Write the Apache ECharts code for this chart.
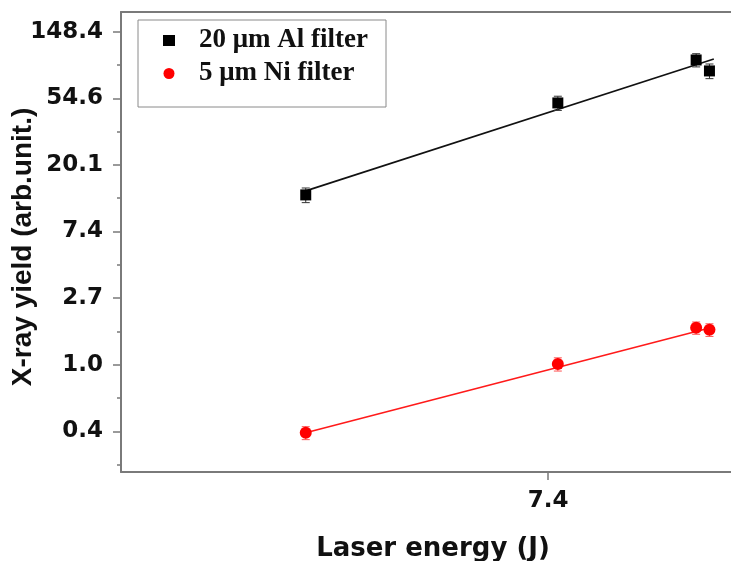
<!DOCTYPE html>
<html>
<head>
<meta charset="utf-8">
<title>X-ray yield vs laser energy</title>
<script src="https://cdn.jsdelivr.net/npm/echarts@6/dist/echarts.min.js"></script>
<style>
  html, body { margin: 0; padding: 0; background: #ffffff; }
  #chart { width: 731px; height: 561px; }
</style>
</head>
<body>
<div id="chart"></div>
<script>
// Laser energy (J) of each shot group
const energy = [4.95, 7.51, 9.44, 9.65];

// 20 um Al filter: yield and error
const alYield = [12.8, 50.9, 97.0, 82.3];
const alErr = [1.4, 5.4, 9.6, 9.0];

// 5 um Ni filter: yield and error
const niYield = [0.36, 1.01, 1.74, 1.69];
const niErr = [0.035, 0.10, 0.16, 0.16];

// Power-law fit lines (end points)
const alFitEnergy = [4.95, 9.72];
const alFitYield = [13.6, 98.5];
const niFitEnergy = [4.95, 9.59];
const niFitYield = [0.36, 1.71];

// Natural-log axes: tick exponents and their labels
const yTickExps = [-1, 0, 1, 2, 3, 4, 5];
const yTickLabels = ['0.4', '1.0', '2.7', '7.4', '20.1', '54.6', '148.4'];
const yMinorExps = [-1.5, -0.5, 0.5, 1.5, 2.5, 3.5, 4.5];
const xTickExps = [2];
const xTickLabels = ['7.4'];
const xRange = [3.647, 10.0];
const yRange = [0.2, 199.3];

const ln = Math.log;
const seriesNames = ['20 \u03bcm Al filter', '5 \u03bcm Ni filter'];
const axisColor = '#7a7a7a';
const textColor = '#111111';

function pts(xs, ys) { return xs.map((x, i) => [ln(x), ln(ys[i])]); }
function errPts(xs, ys, es) {
  return xs.map((x, i) => [ln(x), ln(ys[i] - es[i]), ln(ys[i] + es[i])]);
}
function errorBars(color) {
  return function (params, api) {
    const x = api.value(0);
    const lo = api.coord([x, api.value(1)]);
    const hi = api.coord([x, api.value(2)]);
    const w = 4;
    const st = { stroke: color, lineWidth: 1 };
    return {
      type: 'group',
      children: [
        { type: 'line', shape: { x1: lo[0], y1: lo[1], x2: hi[0], y2: hi[1] }, style: st },
        { type: 'line', shape: { x1: lo[0] - w, y1: lo[1], x2: lo[0] + w, y2: lo[1] }, style: st },
        { type: 'line', shape: { x1: hi[0] - w, y1: hi[1], x2: hi[0] + w, y2: hi[1] }, style: st }
      ]
    };
  };
}

const labelMap = {};
yTickExps.forEach((k, i) => { labelMap['y' + k] = yTickLabels[i]; });
xTickExps.forEach((k, i) => { labelMap['x' + k] = xTickLabels[i]; });

const chart = echarts.init(document.getElementById('chart'), null, { renderer: 'canvas' });

chart.setOption({
  animation: false,
  backgroundColor: '#ffffff',
  grid: { left: 121, right: 0, top: 12, bottom: 89, containLabel: false, outerBoundsMode: 'none' },
  legend: {
    orient: 'vertical',
    left: 138,
    top: 20,
    padding: [7, 18, 20, 25],
    itemGap: 6,
    itemWidth: 12,
    itemHeight: 11,
    borderColor: '#8a8a8a',
    borderWidth: 1,
    data: seriesNames,
    textStyle: {
      fontFamily: 'Liberation Serif',
      fontWeight: 'bold',
      fontSize: 27,
      color: textColor,
      padding: [0, 0, 0, 19]
    }
  },
  xAxis: [
    {
      type: 'value',
      min: ln(xRange[0]),
      max: ln(xRange[1]),
      name: 'Laser energy (J)',
      nameLocation: 'middle',
      nameGap: 64,
      nameMoveOverlap: false,
      nameTextStyle: {
        fontFamily: 'DejaVu Sans',
        fontWeight: 'bold',
        fontSize: 26,
        color: textColor,
        padding: [0, 0, 0, 14]
      },
      splitLine: { show: false },
      axisLine: { show: true, onZero: false, lineStyle: { color: axisColor, width: 2 } },
      axisTick: { show: true, length: 8, customValues: xTickExps, lineStyle: { color: axisColor, width: 1.5 } },
      axisLabel: {
        customValues: xTickExps,
        margin: 18,
        fontFamily: 'DejaVu Sans',
        fontWeight: 'bold',
        fontSize: 23,
        color: textColor,
        formatter: v => labelMap['x' + Math.round(v)]
      }
    },
    {
      type: 'value',
      position: 'top',
      min: ln(xRange[0]),
      max: ln(xRange[1]),
      splitLine: { show: false },
      axisLine: { show: true, onZero: false, lineStyle: { color: axisColor, width: 2 } },
      axisTick: { show: false },
      axisLabel: { show: false }
    }
  ],
  yAxis: [
    {
      type: 'value',
      min: ln(yRange[0]),
      max: ln(yRange[1]),
      name: 'X-ray yield (arb.unit.)',
      nameLocation: 'middle',
      nameGap: 84,
      nameMoveOverlap: false,
      nameTextStyle: {
        fontFamily: 'Liberation Sans',
        fontWeight: 'bold',
        fontSize: 28,
        color: textColor,
        padding: [0, 10, 0, 0]
      },
      splitLine: { show: false },
      axisLine: { show: true, onZero: false, lineStyle: { color: axisColor, width: 2 } },
      axisTick: { show: true, length: 8, customValues: yTickExps, lineStyle: { color: axisColor, width: 1.5 } },
      axisLabel: {
        customValues: yTickExps,
        margin: 18,
        fontFamily: 'DejaVu Sans',
        fontWeight: 'bold',
        fontSize: 23,
        color: textColor,
        formatter: v => labelMap['y' + Math.round(v)]
      }
    },
    {
      type: 'value',
      position: 'left',
      min: ln(yRange[0]),
      max: ln(yRange[1]),
      splitLine: { show: false },
      axisLine: { show: false, onZero: false },
      axisTick: { show: true, length: 4, customValues: yMinorExps, lineStyle: { color: axisColor, width: 1.5 } },
      axisLabel: { show: false }
    }
  ],
  series: [
    {
      name: 'Al fit',
      type: 'line',
      data: pts(alFitEnergy, alFitYield),
      showSymbol: false,
      lineStyle: { color: '#111111', width: 1.6 },
      z: 1
    },
    {
      name: 'Ni fit',
      type: 'line',
      data: pts(niFitEnergy, niFitYield),
      showSymbol: false,
      lineStyle: { color: '#ff1a1a', width: 1.6 },
      z: 1
    },
    {
      name: 'Al error',
      type: 'custom',
      renderItem: errorBars('#333333'),
      encode: { x: 0, y: [1, 2] },
      data: errPts(energy, alYield, alErr),
      z: 2
    },
    {
      name: 'Ni error',
      type: 'custom',
      renderItem: errorBars('#ff5555'),
      encode: { x: 0, y: [1, 2] },
      data: errPts(energy, niYield, niErr),
      z: 2
    },
    {
      name: seriesNames[0],
      type: 'scatter',
      symbol: 'rect',
      symbolSize: 11,
      itemStyle: { color: '#000000', opacity: 1 },
      data: pts(energy, alYield),
      z: 3
    },
    {
      name: seriesNames[1],
      type: 'scatter',
      symbol: 'circle',
      symbolSize: 12,
      itemStyle: { color: '#ff0000', opacity: 1 },
      data: pts(energy, niYield),
      z: 3
    }
  ]
});
</script>
</body>
</html>
